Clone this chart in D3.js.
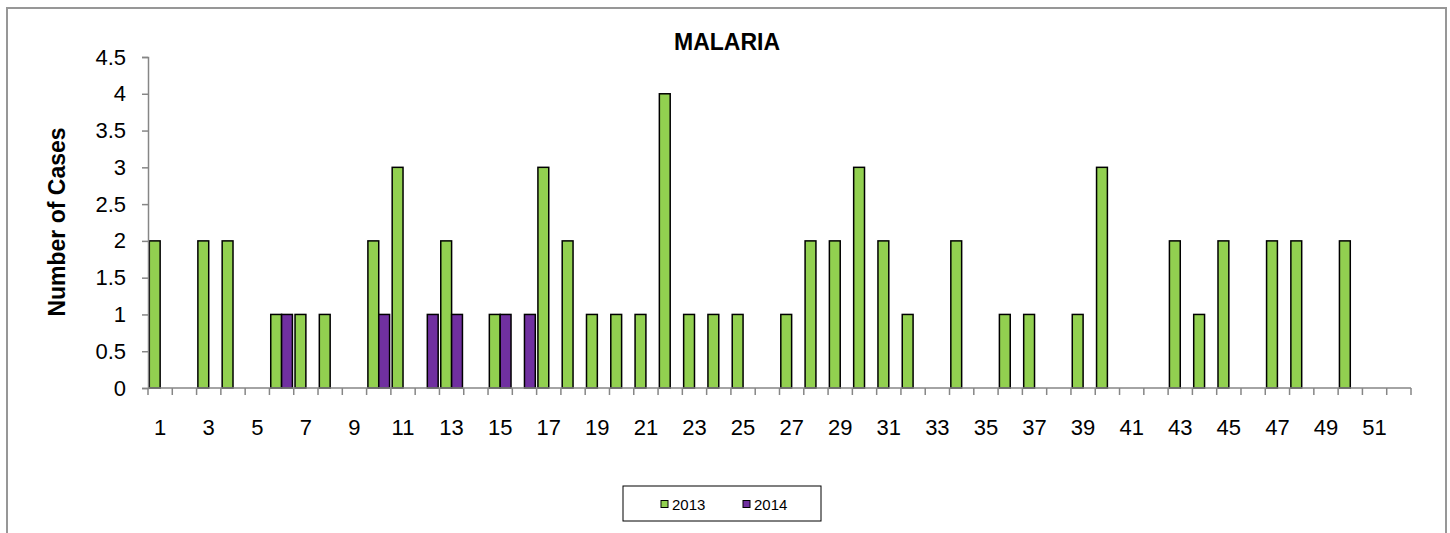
<!DOCTYPE html>
<html>
<head>
<meta charset="utf-8">
<script src="https://cdn.jsdelivr.net/npm/d3@7"></script>
<style>
  html, body { margin: 0; padding: 0; background: #fff; }
  svg { display: block; font-family: "Liberation Sans", Arial, sans-serif; }
</style>
</head>
<body>
<svg id="chart" width="1450" height="533"></svg>
<script>
// ---- data ----
const weeks = d3.range(1, 53);               // weeks 1..52
const series = ["2013", "2014"];
const cases2013 = [2,0,2,2,0,1,1,1,0,2, 3,0,2,0,1,0,3,2,1,1, 1,4,1,1,1,0,1,2,2,3, 2,1,0,2,0,1,1,0,1,3, 0,0,2,1,2,0,2,2,0,2, 0,0];
const cases2014 = [0,0,0,0,0,1,0,0,0,1, 0,1,1,0,1,1,0,0,0,0, 0,0,0,0,0,0,0,0,0,0, 0,0,0,0,0,0,0,0,0,0, 0,0,0,0,0,0,0,0,0,0, 0,0];
const yTicks = [0, 0.5, 1, 1.5, 2, 2.5, 3, 3.5, 4, 4.5];
const xTickLabels = weeks.filter(w => w % 2 === 1);
const colors = {"2013": "#92D050", "2014": "#7030A0"};
const chartTitle = "MALARIA";
const yTitle = "Number of Cases";

// ---- layout ----
const svg = d3.select("#chart");
const pLeft = 148, pRight = 1411, pTop = 57, pBottom = 388;

// outer chart border
svg.append("path")
  .attr("d", "M7,540 L7,8 L1446,8 L1446,540")
  .attr("fill", "none").attr("stroke", "#979797").attr("stroke-width", 2);

const x = d3.scaleBand().domain(weeks).range([pLeft, pRight]).paddingInner(0).paddingOuter(0);
const xs = d3.scaleBand().domain(series).range([0, x.bandwidth()]).paddingInner(0).paddingOuter(0.12);
const y = d3.scaleLinear().domain([0, 4.5]).range([pBottom, pTop]);

// bars
const rows = [];
weeks.forEach((w, i) => {
  rows.push({week: w, s: "2013", v: cases2013[i]});
  rows.push({week: w, s: "2014", v: cases2014[i]});
});
svg.append("g").selectAll("rect")
  .data(rows.filter(d => d.v > 0))
  .join("rect")
  .attr("x", d => x(d.week) + xs(d.s))
  .attr("y", d => y(d.v))
  .attr("width", xs.bandwidth())
  .attr("height", d => y(0) - y(d.v))
  .attr("fill", d => colors[d.s])
  .attr("stroke", "#000")
  .attr("stroke-width", 1.5);

// y axis
const yAxis = d3.axisLeft(y).tickValues(yTicks).tickSize(6).tickPadding(16).tickFormat(d3.format("~g"));
const gy = svg.append("g").attr("transform", `translate(${pLeft},0)`).call(yAxis);
gy.select(".domain").attr("stroke", "#868686").attr("stroke-width", 1.5);
gy.selectAll(".tick line").attr("stroke", "#868686").attr("stroke-width", 1.5);
gy.selectAll(".tick text").attr("font-size", 22).attr("fill", "#000")
  .attr("font-family", "Liberation Sans, Arial, sans-serif");

// x axis: ticks at category boundaries
const boundaries = weeks.map(w => x(w)).concat([pRight]);
const gx = svg.append("g").attr("transform", `translate(0,${pBottom})`);
gx.append("line").attr("x1", pLeft).attr("x2", pRight).attr("y1", 0).attr("y2", 0)
  .attr("stroke", "#868686").attr("stroke-width", 1.5);
gx.selectAll("line.tk").data(boundaries).join("line").attr("class", "tk")
  .attr("x1", d => d).attr("x2", d => d).attr("y1", 0).attr("y2", 7)
  .attr("stroke", "#868686").attr("stroke-width", 1.5);
gx.selectAll("text").data(xTickLabels).join("text")
  .attr("x", d => x(d) + x.bandwidth() / 2)
  .attr("y", 47)
  .attr("text-anchor", "middle")
  .attr("font-size", 22)
  .text(d => d);

// title
svg.append("text").attr("x", 727).attr("y", 50).attr("text-anchor", "middle")
  .attr("font-size", 23).attr("font-weight", "bold").text(chartTitle);

// y title
svg.append("text").attr("transform", "translate(65,222) rotate(-90)")
  .attr("text-anchor", "middle").attr("font-size", 23).attr("font-weight", "bold").text(yTitle);

// legend
const lg = svg.append("g");
lg.append("rect").attr("x", 623).attr("y", 486).attr("width", 198).attr("height", 35)
  .attr("fill", "#fff").attr("stroke", "#000").attr("stroke-width", 1);
const legX = [661, 743];
series.forEach((s, i) => {
  lg.append("rect").attr("x", legX[i]).attr("y", 500.5).attr("width", 7).attr("height", 7)
    .attr("fill", colors[s]).attr("stroke", "#000").attr("stroke-width", 1);
  lg.append("text").attr("x", legX[i] + 11).attr("y", 510).attr("font-size", 15).text(s);
});
</script>
</body>
</html>
